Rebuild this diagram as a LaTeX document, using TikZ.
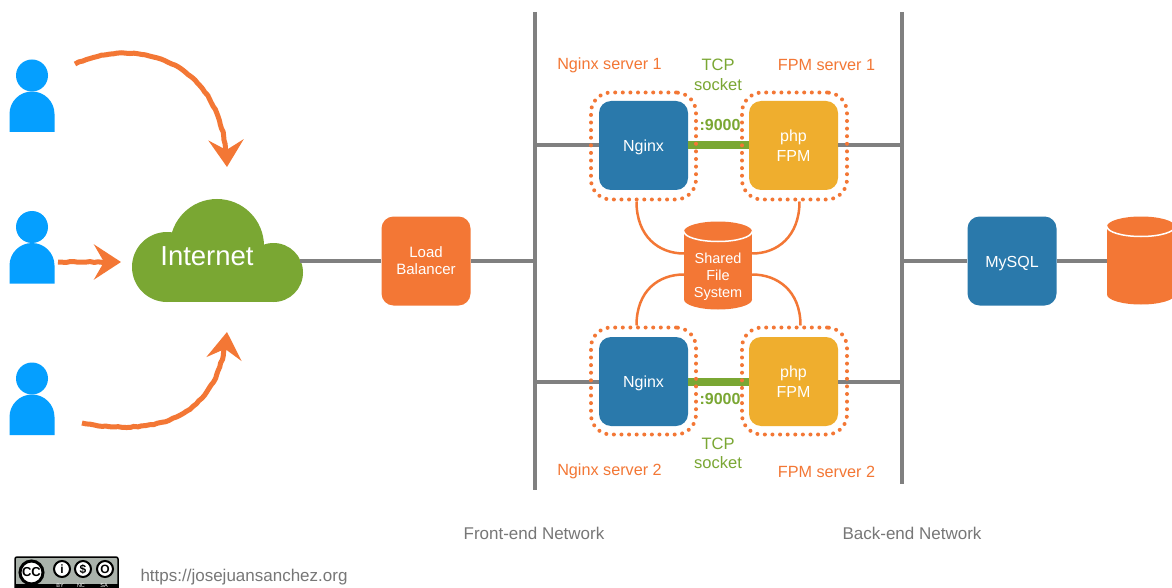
\documentclass[tikz,border=0pt]{standalone}
\usepackage{fontspec}
\setmainfont{Liberation Sans}
\usetikzlibrary{positioning}
\usetikzlibrary{arrows.meta}
\usetikzlibrary{decorations.pathmorphing}

\definecolor{hostblue}{HTML}{2A79AB}
\definecolor{fpmyellow}{HTML}{EFAE2E}
\definecolor{sketchorange}{HTML}{F37735}
\definecolor{cloudgreen}{HTML}{7AA733}
\definecolor{userblue}{HTML}{059FFF}
\definecolor{wiregray}{HTML}{808080}
\definecolor{notegray}{HTML}{777777}
\definecolor{badgegray}{HTML}{AAB2AB}

\newcommand{\px}[1]{\fontsize{#1}{#1}\selectfont}
\newcommand{\lowered}[1]{\raisebox{-6pt}[0pt][0pt]{#1}}

\tikzset{
	hostbox/.style = {fill = #1, rounded corners = 12, minimum width = 89, minimum height = 89, inner sep = 0, text = white, align = center, font = \px{16}},
	zonebox/.style = {draw = sketchorange, line width = 4, dash pattern = on 0pt off 7.6pt, line cap = round, rounded corners = 20, minimum width = 105, minimum height = 107},
	diskbox/.style = {minimum width = 68, inner sep = 0, text = white, align = center, font = \px{14.5}},
	wire/.style = {wiregray, line width = 4},
	pipe/.style = {sketchorange, line width = 2.5},
	sketch/.style = {sketchorange, line width = 5, decorate, decoration = {random steps, segment length = 4, amplitude = 0.5, post length = 10}, -{Stealth[length = 27, width = 35, inset = 10]}},
	orangenote/.style = {text = sketchorange, font = \px{16.2}, align = center},
	greennote/.style = {text = cloudgreen, font = \px{16.5}, align = center},
	graynote/.style = {text = notegray, font = \px{17}},
	badgering/.style = {circle, draw = black, fill = white, line width = 2, minimum size = 16, inner sep = 0, font = \px{12}\bfseries},
	badgetext/.style = {text = white, inner sep = 0, font = \px{5.5}},
	person/.pic = {
		\fill [userblue] (0, 0) circle (16);
		\fill [userblue] (-22.5, 56.5) -- (-22.5, 38.5) arc [start angle = 180, end angle = 360, radius = 22.5] -- (22.5, 56.5) -- cycle;
	},
	disk/.pic = {
		\fill [sketchorange] (0, -34) ellipse [x radius = 34, y radius = 10];
		\fill [sketchorange] (0, 34) ellipse [x radius = 34, y radius = 10];
		\fill [sketchorange] (-34, -34) rectangle (34, 34);
		\draw [white, line width = 1.5] (-34, -34) arc [start angle = 180, end angle = 0, x radius = 34, y radius = 10];
	}
}

\begin{document}
\begin{tikzpicture}[x = 1pt, y = -1pt]
	\useasboundingbox (0, 0) rectangle (1172, 588);
	\fill [white] (0, 0) rectangle (1172, 588);

	\pic at (32, 75.5) {person};
	\pic at (32, 227) {person};
	\pic at (32, 378.5) {person};

	\fill [cloudgreen] (167, 267) circle (35);
	\fill [cloudgreen] (217, 246) circle (47);
	\fill [cloudgreen] (273.5, 272.5) circle (29.5);
	\fill [cloudgreen] (167, 270) rectangle (273.5, 302);
	\node (internet) at (207, 256) [text = white, font = \px{27.5}] {Internet};

	\node (balancer) at (426, 261) [hostbox = sketchorange, font = \px{15}] {Load\\[2pt]Balancer};
	\node (nginxa) at (643.5, 145.5) [hostbox = hostblue] {\lowered{Nginx}};
	\node (fpma) at (793.5, 145.5) [hostbox = fpmyellow] {php\\[3.5pt]FPM};
	\node (nginxb) at (643.5, 381.5) [hostbox = hostblue] {\lowered{Nginx}};
	\node (fpmb) at (793.5, 381.5) [hostbox = fpmyellow] {php\\[3.5pt]FPM};
	\node (mysql) at (1012, 261) [hostbox = hostblue] {\lowered{MySQL}};

	\pic at (718, 265.5) {disk};
	\pic at (1141, 260.5) {disk};
	\node (sharedfs) at (718, 276.5) [diskbox, minimum height = 68] {Shared\\[2.5pt]File\\[2.5pt]System};
	\node (dbdisk) at (1141, 270) [diskbox, minimum height = 68] {};

	\coordinate (frontup) at (535, 12);
	\coordinate (frontdown) at (535, 490);
	\coordinate (backup) at (902, 12);
	\coordinate (backdown) at (902, 484);
	\coordinate (cloudedge) at (300, 261);
	\draw [wire] (frontup) -- (frontdown);
	\draw [wire] (backup) -- (backdown);
	\draw [wire] (cloudedge) -- (balancer.west);
	\draw [wire] (balancer.east) -- (balancer.east -| frontup);
	\draw [wire] (nginxa.west -| frontup) -- (nginxa.west);
	\draw [wire] (fpma.east) -- (fpma.east -| backup);
	\draw [wire] (nginxb.west -| frontup) -- (nginxb.west);
	\draw [wire] (fpmb.east) -- (fpmb.east -| backup);
	\draw [wire] (mysql.west -| backup) -- (mysql.west);
	\draw [wire] (mysql.east) -- (dbdisk.west |- mysql.east);
	\draw [cloudgreen, line width = 8] (nginxa.east) -- (fpma.west);
	\draw [cloudgreen, line width = 8] (nginxb.east) -- (fpmb.west);

	\node (zonenginxa) at (643.5, 146) [zonebox] {};
	\node (zonefpma) at (794.5, 146) [zonebox] {};
	\node (zonenginxb) at (643.5, 381) [zonebox] {};
	\node (zonefpmb) at (794.5, 381) [zonebox] {};

	\draw [pipe] ([xshift = -7]zonenginxa.south) .. controls +(0, 35) and +(-25, 0) .. ([yshift = 23]sharedfs.west);
	\draw [pipe] ([xshift = 5]zonefpma.south) .. controls +(0, 35) and +(25, 0) .. ([yshift = 23]sharedfs.east);
	\draw [pipe] ([xshift = -7]zonenginxb.north) .. controls +(0, -35) and +(-25, 0) .. ([yshift = 2]sharedfs.west);
	\draw [pipe] ([xshift = 6]zonefpmb.north) .. controls +(0, -35) and +(25, 0) .. ([yshift = 2]sharedfs.east);

	\coordinate (usertaila) at (75, 64);
	\coordinate (usertipa) at (227, 167);
	\coordinate (usertailb) at (58, 262);
	\coordinate (usertipb) at (121, 262);
	\coordinate (usertailc) at (82, 423);
	\coordinate (usertipc) at (227, 332);
	\draw [sketch] (usertaila) .. controls (140, 35) and (225, 62) .. (usertipa);
	\draw [sketch] (usertailb) -- (usertipb);
	\draw [sketch] (usertailc) .. controls (150, 435) and (218, 425) .. (usertipc);

	\node (labelnginxa) at (609.5, 65.5) [orangenote] {Nginx server 1};
	\node (labelfpma) at (826.5, 65.5) [orangenote] {FPM server 1};
	\node (labelnginxb) at (609.5, 471.5) [orangenote] {Nginx server 2};
	\node (labelfpmb) at (826.5, 471.5) [orangenote] {FPM server 2};
	\node (sockettop) at (718, 75) [greennote] {TCP\\[3pt]socket};
	\node (socketlow) at (718, 453.5) [greennote] {TCP\\[3pt]socket};
	\node (porta) at (720, 125) [greennote, font = \px{16}\bfseries] {:9000};
	\node (portb) at (720, 399) [greennote, font = \px{16}\bfseries] {:9000};
	\node (frontlabel) at (534, 533) [graynote] {Front-end Network};
	\node (backlabel) at (912, 533) [graynote] {Back-end Network};
	\node (website) at (244, 577) [graynote] {https://josejuansanchez.org};

	\draw [black, fill = badgegray, line width = 1.5, rounded corners = 2] (15, 557) rectangle (118, 600);
	\fill [black] (15, 583.5) rectangle (118, 600);
	\node (ccmark) at (31.5, 572.5) [badgering, line width = 3, minimum size = 23, font = \px{13}\bfseries] {CC};
	\node (bymark) at (62, 569) [badgering] {i};
	\node (ncmark) at (83, 569) [badgering] {\$};
	\node (samark) at (105, 569) [badgering] {O};
	\node (bytext) at (60, 585.8) [badgetext] {BY};
	\node (nctext) at (81, 585.8) [badgetext] {NC};
	\node (satext) at (104, 585.8) [badgetext] {SA};
\end{tikzpicture}
\end{document}
